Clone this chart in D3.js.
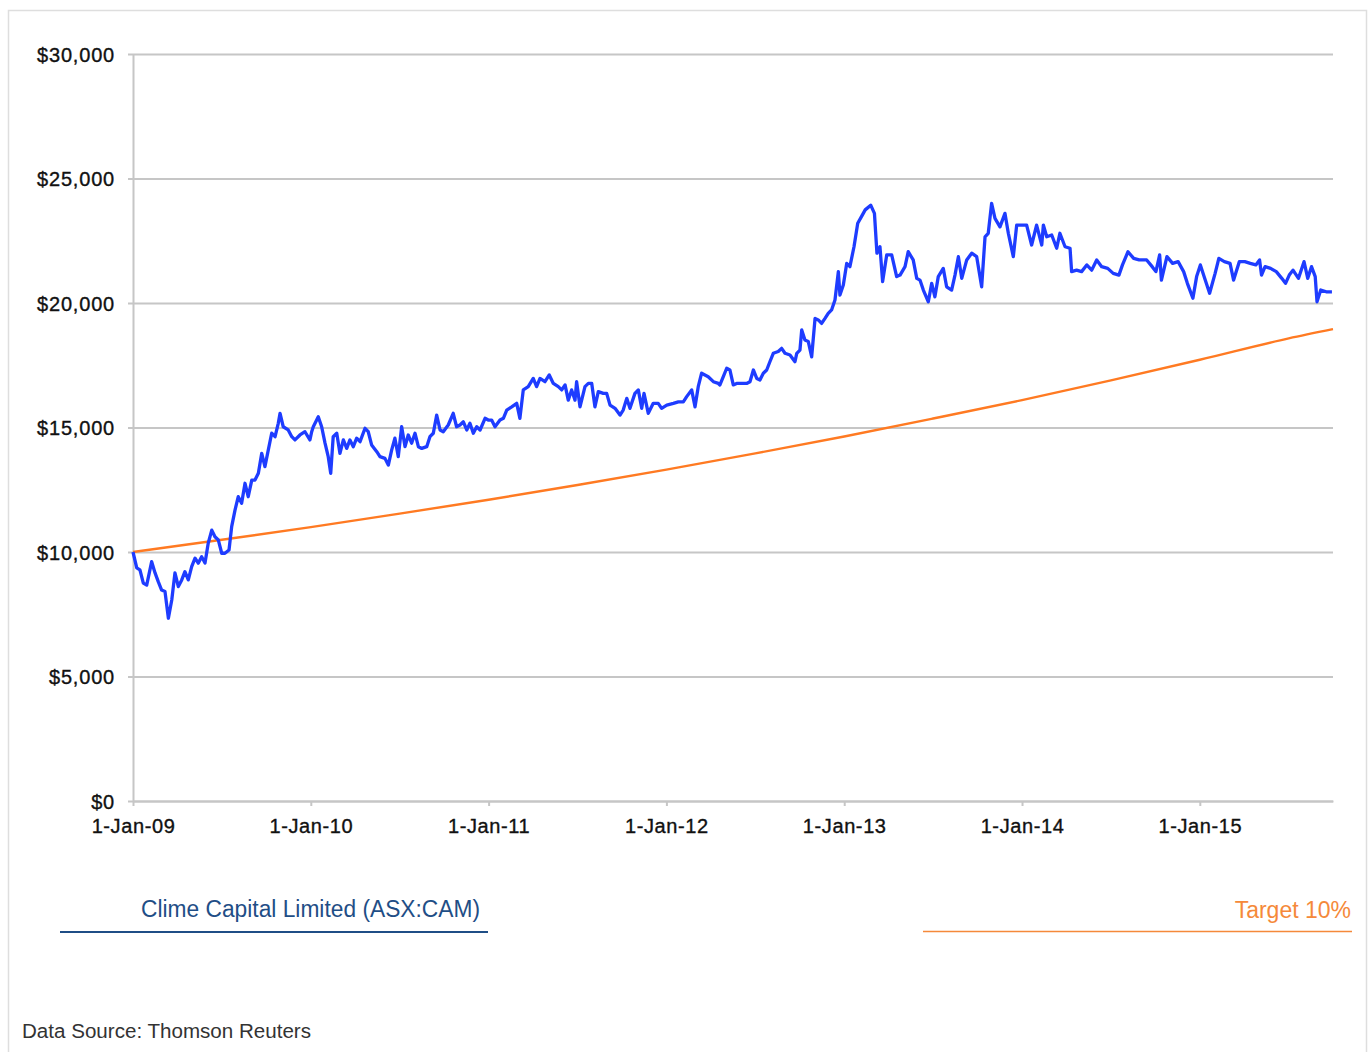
<!DOCTYPE html>
<html>
<head>
<meta charset="utf-8">
<script src="https://cdn.jsdelivr.net/npm/d3@7/dist/d3.min.js"></script>
<style>
  html, body { margin: 0; padding: 0; background: #fff; }
  svg { display: block; }
</style>
</head>
<body>
<svg id="chart" width="1372" height="1052"></svg>
<script>
// ---- DATA ----
// Year ticks on the x axis
const yearTicks = [2009, 2010, 2011, 2012, 2013, 2014, 2015];
const yearTickLabels = ["1-Jan-09", "1-Jan-10", "1-Jan-11", "1-Jan-12", "1-Jan-13", "1-Jan-14", "1-Jan-15"];
const valueTicks = [0, 5000, 10000, 15000, 20000, 25000, 30000];
const valueTickLabels = ["$0", "$5,000", "$10,000", "$15,000", "$20,000", "$25,000", "$30,000"];
const xDomain = [2009, 2015.749];

// Clime Capital Limited (ASX:CAM) — value of $10,000 invested, time in decimal years
const camTimes = [
  2009.000, 2009.021, 2009.039, 2009.058, 2009.077, 2009.105, 2009.124, 2009.142, 2009.161, 2009.180,
  2009.199, 2009.218, 2009.236, 2009.255, 2009.274, 2009.292, 2009.311, 2009.330, 2009.349, 2009.367,
  2009.386, 2009.405, 2009.423, 2009.443, 2009.461, 2009.480, 2009.499, 2009.517, 2009.540, 2009.555,
  2009.574, 2009.592, 2009.611, 2009.630, 2009.648, 2009.668, 2009.686, 2009.705, 2009.724, 2009.742,
  2009.761, 2009.780, 2009.799, 2009.817, 2009.827, 2009.845, 2009.873, 2009.893, 2009.911, 2009.939,
  2009.967, 2009.995, 2010.005, 2010.014, 2010.042, 2010.061, 2010.080, 2010.098, 2010.112, 2010.126,
  2010.146, 2010.164, 2010.183, 2010.202, 2010.220, 2010.239, 2010.258, 2010.277, 2010.305, 2010.323,
  2010.342, 2010.371, 2010.389, 2010.417, 2010.436, 2010.455, 2010.473, 2010.492, 2010.511, 2010.530,
  2010.548, 2010.567, 2010.586, 2010.605, 2010.624, 2010.652, 2010.670, 2010.689, 2010.708, 2010.727,
  2010.745, 2010.773, 2010.801, 2010.820, 2010.839, 2010.858, 2010.877, 2010.895, 2010.914, 2010.933,
  2010.952, 2010.980, 2010.998, 2011.017, 2011.036, 2011.064, 2011.083, 2011.102, 2011.130, 2011.158,
  2011.176, 2011.195, 2011.223, 2011.251, 2011.270, 2011.289, 2011.317, 2011.341, 2011.364, 2011.392,
  2011.411, 2011.430, 2011.448, 2011.467, 2011.486, 2011.495, 2011.514, 2011.542, 2011.561, 2011.580,
  2011.598, 2011.617, 2011.645, 2011.664, 2011.683, 2011.711, 2011.739, 2011.757, 2011.777, 2011.795,
  2011.823, 2011.842, 2011.861, 2011.874, 2011.898, 2011.926, 2011.954, 2011.973, 2012.002, 2012.039,
  2012.067, 2012.095, 2012.114, 2012.142, 2012.161, 2012.179, 2012.198, 2012.235, 2012.264, 2012.292,
  2012.301, 2012.320, 2012.339, 2012.357, 2012.376, 2012.395, 2012.423, 2012.451, 2012.470, 2012.489,
  2012.508, 2012.526, 2012.545, 2012.564, 2012.582, 2012.601, 2012.629, 2012.648, 2012.667, 2012.695,
  2012.723, 2012.733, 2012.751, 2012.761, 2012.779, 2012.798, 2012.817, 2012.836, 2012.854, 2012.873,
  2012.892, 2012.910, 2012.929, 2012.948, 2012.967, 2012.976, 2012.995, 2013.014, 2013.032, 2013.055,
  2013.076, 2013.097, 2013.118, 2013.149, 2013.170, 2013.184, 2013.201, 2013.216, 2013.239, 2013.267,
  2013.295, 2013.314, 2013.342, 2013.360, 2013.388, 2013.408, 2013.426, 2013.445, 2013.473, 2013.492,
  2013.510, 2013.529, 2013.557, 2013.576, 2013.604, 2013.623, 2013.642, 2013.661, 2013.689, 2013.717,
  2013.745, 2013.773, 2013.792, 2013.810, 2013.829, 2013.848, 2013.876, 2013.904, 2013.923, 2013.951,
  2013.970, 2014.026, 2014.054, 2014.082, 2014.111, 2014.120, 2014.139, 2014.167, 2014.195, 2014.213,
  2014.242, 2014.270, 2014.279, 2014.307, 2014.335, 2014.364, 2014.392, 2014.420, 2014.448, 2014.482,
  2014.513, 2014.545, 2014.565, 2014.596, 2014.628, 2014.659, 2014.701, 2014.732, 2014.753, 2014.774,
  2014.784, 2014.815, 2014.847, 2014.878, 2014.909, 2014.930, 2014.961, 2014.982, 2015.003, 2015.024,
  2015.055, 2015.086, 2015.107, 2015.138, 2015.170, 2015.190, 2015.222, 2015.253, 2015.284, 2015.315,
  2015.336, 2015.347, 2015.367, 2015.398, 2015.430, 2015.461, 2015.482, 2015.503, 2015.524, 2015.555,
  2015.586, 2015.607, 2015.628, 2015.649, 2015.659, 2015.680, 2015.711, 2015.743
];
const camValues = [
  10000, 9360, 9280, 8750, 8670, 9610, 9160, 8810, 8470, 8410,
  7340, 8070, 9160, 8610, 8880, 9210, 8880, 9410, 9750, 9550,
  9810, 9560, 10350, 10880, 10610, 10480, 9950, 9950, 10080, 11020,
  11690, 12220, 11960, 12760, 12220, 12890, 12890, 13160, 13960, 13430,
  14100, 14770, 14630, 15170, 15570, 15030, 14900, 14630, 14500, 14700,
  14830, 14500, 14830, 15030, 15430, 15030, 14370, 13830, 13160, 14630,
  14770, 13960, 14500, 14160, 14500, 14230, 14570, 14430, 14970, 14830,
  14300, 14030, 13830, 13760, 13490, 14100, 14570, 13830, 15030, 14230,
  14700, 14370, 14770, 14230, 14160, 14230, 14630, 14770, 15500, 14900,
  14830, 15100, 15570, 15030, 15100, 15230, 14900, 15170, 14770, 15030,
  14900, 15370, 15300, 15300, 15030, 15300, 15370, 15700, 15830, 15970,
  15370, 16510, 16640, 16970, 16640, 16970, 16840, 17110, 16770, 16640,
  16510, 16710, 16100, 16510, 16100, 16840, 15830, 16640, 16770, 16770,
  15830, 16440, 16370, 16370, 15900, 15770, 15500, 15700, 16170, 15770,
  16370, 16510, 15770, 16370, 15570, 15970, 15970, 15770, 15900, 15970,
  16030, 16030, 16240, 16510, 15830, 16640, 17180, 17040, 16840, 16770,
  16710, 17040, 17380, 17310, 16710, 16770, 16770, 16770, 16840, 17310,
  16970, 16910, 17180, 17310, 17640, 17980, 18050, 18180, 17980, 17910,
  17640, 17980, 18110, 18920, 18510, 18450, 17840, 19380, 19320, 19180,
  19380, 19580, 19720, 20120, 21260, 20320, 20720, 21590, 21460, 22260,
  23200, 23470, 23740, 23930, 23600, 22000, 22260, 20860, 21930, 21930,
  21060, 21120, 21460, 22060, 21730, 20990, 20920, 20520, 20050, 20790,
  20250, 21060, 21390, 20650, 20520, 21120, 21860, 20990, 21730, 22000,
  21860, 20650, 22660, 22800, 24000, 23400, 23060, 23600, 22800, 21860,
  23130, 23130, 22330, 23130, 22330, 23130, 22660, 22730, 22200, 22800,
  22260, 22200, 21260, 21320, 21260, 21530, 21320, 21730, 21460, 21390,
  21190, 21120, 21530, 22060, 21790, 21730, 21730, 21460, 21260, 21930,
  20920, 21860, 21590, 21660, 21260, 20790, 20190, 21060, 21530, 21060,
  20390, 21190, 21790, 21660, 21590, 20920, 21660, 21660, 21590, 21530,
  21730, 21120, 21460, 21390, 21260, 20990, 20790, 21120, 21320, 20990,
  21660, 20990, 21460, 21060, 20050, 20520, 20450, 20450
];

// Target 10% line
const targetTimes = [2009, 2009.5, 2010, 2010.5, 2011, 2011.5, 2012, 2012.5, 2013, 2013.5, 2014, 2014.5, 2015, 2015.5, 2015.749];
const targetValues = [10000, 10490, 11000, 11540, 12100, 12690, 13310, 13960, 14640, 15360, 16100, 16890, 17720, 18580, 18950];

const legendLabels = ["Clime Capital Limited (ASX:CAM)", "Target 10%"];
const sourceText = "Data Source: Thomson Reuters";

// ---- DRAWING ----
const svg = d3.select("#chart");
const W = 1372, H = 1052;
const mLeft = 133, mRight = 1333, mTop = 54, mBottom = 801;

svg.append("rect").attr("x", 0).attr("y", 0).attr("width", W).attr("height", H).attr("fill", "#fff");
// outer frame
svg.append("rect").attr("x", 8.5).attr("y", 10.5).attr("width", 1358).attr("height", 1060)
  .attr("fill", "none").attr("stroke", "#dedede").attr("stroke-width", 1.5);

const x = d3.scaleLinear().domain(xDomain).range([mLeft, mRight]);
const y = d3.scaleLinear().domain([0, 30000]).range([mBottom, mTop]);

const gridColor = "#c6c6c6";
const labelFont = "'Liberation Sans', Arial, sans-serif";

// Y axis with gridlines
const yAxis = d3.axisLeft(y).tickValues(valueTicks)
  .tickFormat((d, i) => valueTickLabels[i])
  .tickSize(-(mRight - mLeft)).tickSizeOuter(0).tickPadding(18);
const gy = svg.append("g").attr("transform", `translate(${mLeft},0)`).call(yAxis);
gy.select(".domain").attr("stroke", gridColor).attr("stroke-width", 2);
gy.selectAll(".tick line").attr("stroke", gridColor).attr("stroke-width", 2).attr("x1", -5);
gy.selectAll(".tick text")
  .attr("fill", "#111").attr("stroke", "#111").attr("stroke-width", 0.35)
  .attr("font-family", labelFont).attr("font-size", 20)
  .attr("letter-spacing", "0.8px").attr("dy", "0.35em").attr("x", -18);

// X axis
const xAxis = d3.axisBottom(x).tickValues(yearTicks)
  .tickFormat((d, i) => yearTickLabels[i])
  .tickSize(5).tickSizeOuter(0).tickPadding(13);
const gx = svg.append("g").attr("transform", `translate(0,${mBottom})`).call(xAxis);
gx.select(".domain").attr("stroke", gridColor).attr("stroke-width", 2);
gx.selectAll(".tick line").attr("stroke", gridColor).attr("stroke-width", 2);
gx.selectAll(".tick text")
  .attr("fill", "#111").attr("stroke", "#111").attr("stroke-width", 0.35)
  .attr("font-family", labelFont).attr("font-size", 20)
  .attr("letter-spacing", "0.6px");

// Target line
const targetData = targetTimes.map((t, i) => ({ t, v: targetValues[i] }));
svg.append("path").datum(targetData)
  .attr("fill", "none").attr("stroke", "#ff7a22").attr("stroke-width", 2.4)
  .attr("d", d3.line().x(d => x(d.t)).y(d => y(d.v)).curve(d3.curveMonotoneX));

// CAM line
const camData = camTimes.map((t, i) => ({ t, v: camValues[i] }));
svg.append("path").datum(camData)
  .attr("fill", "none").attr("stroke", "#1e3cff").attr("stroke-width", 3.3)
  .attr("stroke-linejoin", "round")
  .attr("d", d3.line().x(d => x(d.t)).y(d => y(d.v)));

// Legend
const legendFont = "'Liberation Sans', Arial, sans-serif";
svg.append("text").attr("x", 141).attr("y", 917).text(legendLabels[0])
  .attr("fill", "#1f4e86").attr("font-family", legendFont).attr("font-size", 23)
  .attr("textLength", 339).attr("lengthAdjust", "spacingAndGlyphs");
svg.append("line").attr("x1", 60).attr("x2", 488).attr("y1", 932).attr("y2", 932)
  .attr("stroke", "#1f4e86").attr("stroke-width", 2);

svg.append("text").attr("x", 1351).attr("y", 918).attr("text-anchor", "end").text(legendLabels[1])
  .attr("fill", "#f5893a").attr("font-family", legendFont).attr("font-size", 23);
svg.append("line").attr("x1", 923).attr("x2", 1352).attr("y1", 931.5).attr("y2", 931.5)
  .attr("stroke", "#f5893a").attr("stroke-width", 1.5);

// Source
svg.append("text").attr("x", 22).attr("y", 1038).text(sourceText)
  .attr("fill", "#333").attr("font-family", legendFont).attr("font-size", 20)
  .attr("textLength", 289).attr("lengthAdjust", "spacingAndGlyphs");
</script>
</body>
</html>
